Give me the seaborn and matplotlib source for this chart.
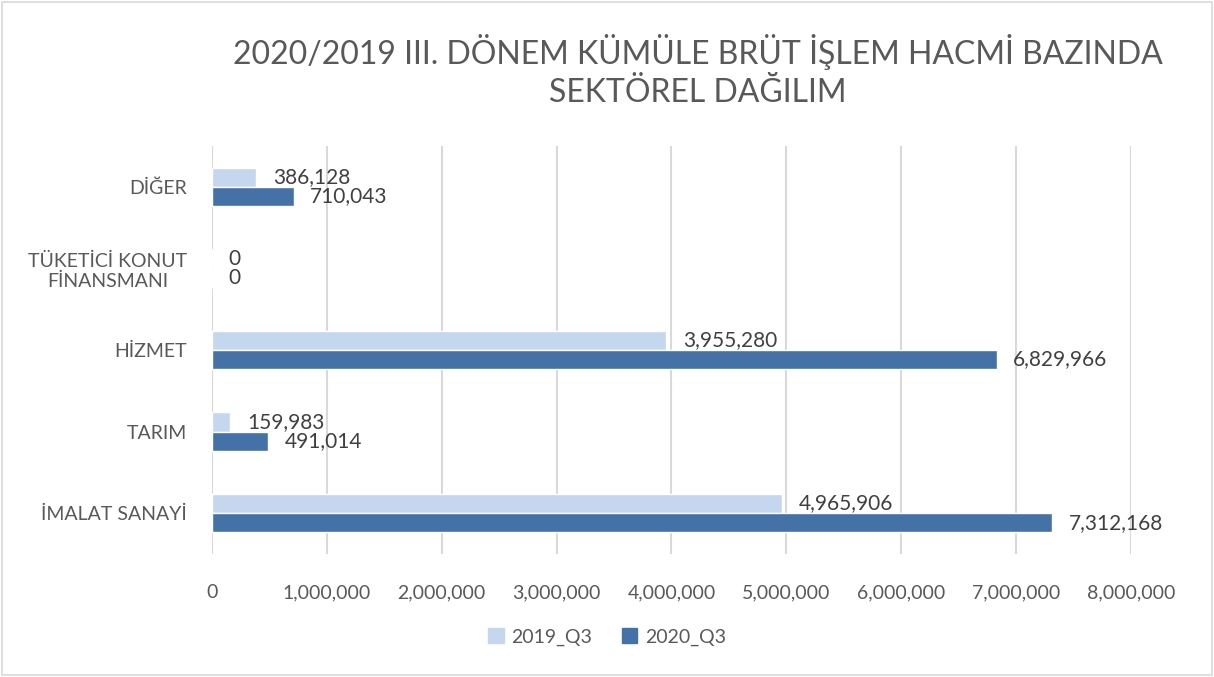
import matplotlib
matplotlib.use('Agg')
import matplotlib.pyplot as plt
import matplotlib.patches as mpatches
import seaborn as sns
import pandas as pd

sectors = ['DİĞER', 'TÜKETİCİ KONUT\nFİNANSMANI', 'HİZMET', 'TARIM', 'İMALAT SANAYİ']
vals_2019 = [386128, 0, 3955280, 159983, 4965906]
vals_2020 = [710043, 0, 6829966, 491014, 7312168]
periods = ['2019_Q3', '2020_Q3']
colors = ['#C5D7EF', '#4472A7']

df = pd.DataFrame({
    'sector': sectors * 2,
    'period': [periods[0]] * len(sectors) + [periods[1]] * len(sectors),
    'value': vals_2019 + vals_2020,
})

sns.set_style('white')
plt.rcParams['font.family'] = ['Lato', 'DejaVu Sans']

fig = plt.figure(figsize=(12.14, 6.77), dpi=100)
ax = fig.add_axes([0.1746, 0.182, 0.757, 0.602])

sns.barplot(data=df, y='sector', x='value', hue='period', order=sectors,
            hue_order=periods, palette=colors, orient='h', width=0.47,
            saturation=1, ax=ax)

for cont in ax.containers:
    ax.bar_label(cont, labels=[f'{v:,.0f}' for v in cont.datavalues],
                 padding=12, fontsize=15, color='#404040')

ax.set_xlim(0, 8000000)
ax.set_xticks(range(0, 8000001, 1000000))
ax.set_xticklabels([f'{t:,}' for t in range(0, 8000001, 1000000)])
ax.grid(axis='x', color='#D9D9D9', linewidth=1.5)
ax.set_axisbelow(True)
for s in ax.spines.values():
    s.set_visible(False)
ax.tick_params(axis='both', length=0, labelsize=14, labelcolor='#595959')
ax.tick_params(axis='x', pad=22)
ax.tick_params(axis='y', pad=18)
for lbl in ax.get_yticklabels():
    lbl.set_multialignment('center')
ax.set_xlabel('')
ax.set_ylabel('')

ax.get_legend().remove()
handles = [mpatches.Patch(color=c, label=p) for c, p in zip(colors, periods)]
fig.legend(handles=handles, loc='center', bbox_to_anchor=(0.5, 0.059), ncol=2,
           frameon=False, fontsize=14, labelcolor='#595959',
           handlelength=0.8, handleheight=0.8, columnspacing=1.5, handletextpad=0.4)

fig.text(0.575, 0.895, '2020/2019 III. DÖNEM KÜMÜLE BRÜT İŞLEM HACMİ BAZINDA\nSEKTÖREL DAĞILIM',
         ha='center', va='center', fontsize=23, color='#595959', linespacing=1.3)

fig.patches.append(mpatches.Rectangle((0.002, 0.003), 0.996, 0.994, transform=fig.transFigure,
                                      fill=False, edgecolor='#D9D9D9', linewidth=1.2))

fig.savefig('out.png', dpi=100)
